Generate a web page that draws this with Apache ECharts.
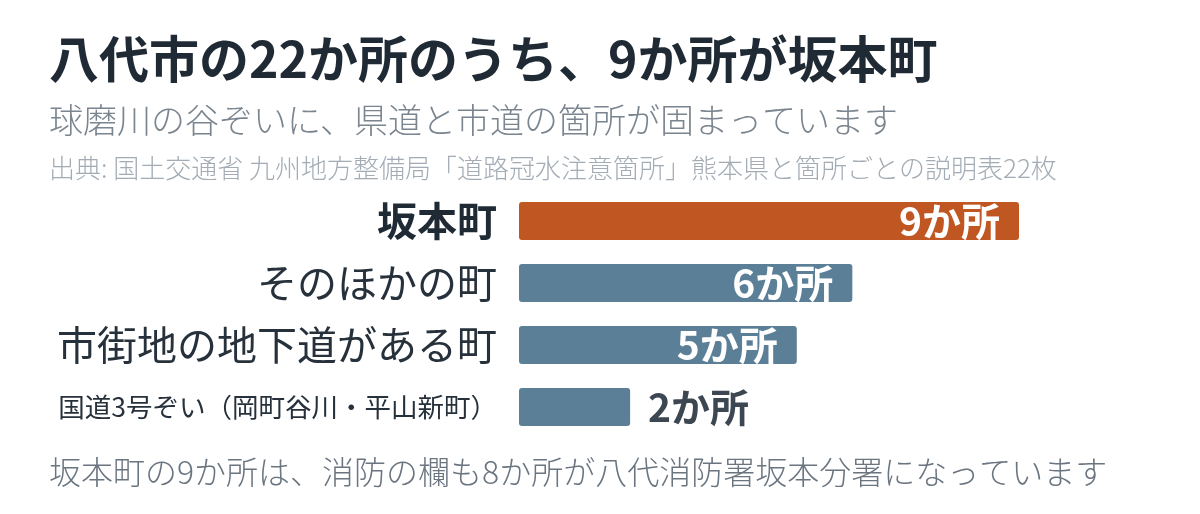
<!DOCTYPE html>
<html>
<head>
<meta charset="utf-8">
<script src="https://cdn.jsdelivr.net/npm/echarts@6/dist/echarts.min.js"></script>
<style>
  html, body { margin: 0; padding: 0; background: #fff; }
  #main { width: 1200px; height: 514px; }
</style>
</head>
<body>
<div id="main"></div>
<script>
  // データ
  var categories = ['坂本町', 'そのほかの町', '市街地の地下道がある町', '国道3号ぞい（岡町谷川・平山新町）'];
  var counts = [9, 6, 5, 2];
  var barColors = ['#c05723', '#5b7f96', '#5b7f96', '#5b7f96'];

  var FONT = '"Noto Sans CJK JP", "Noto Sans", sans-serif';

  var myChart = echarts.init(document.getElementById('main'));

  var seriesData = counts.map(function (v, i) {
    var item = {
      value: v,
      itemStyle: { color: barColors[i] }
    };
    // 短いバーはラベルを外側に
    if (v < 3) {
      item.label = { position: 'right', color: '#3d4752', distance: 18 };
    }
    return item;
  });

  var option = {
    animation: false,
    backgroundColor: '#ffffff',
    textStyle: { fontFamily: FONT },
    title: [
      {
        text: '八代市の22か所のうち、9か所が坂本町',
        left: 44, top: 29,
        textStyle: { fontFamily: FONT, fontSize: 50, fontWeight: 'bold', color: '#1f2a35' }
      },
      {
        text: '球磨川の谷ぞいに、県道と市道の箇所が固まっています',
        left: 44, top: 98,
        textStyle: { fontFamily: FONT, fontSize: 34, fontWeight: 300, color: '#7b858f' }
      },
      {
        text: '出典: 国土交通省 九州地方整備局「道路冠水注意箇所」熊本県と箇所ごとの説明表22枚',
        left: 44, top: 150,
        textStyle: { fontFamily: FONT, fontSize: 26, fontWeight: 300, color: '#a3acb5' }
      },
      {
        text: '坂本町の9か所は、消防の欄も8か所が八代消防署坂本分署になっています',
        left: 44, top: 451,
        textStyle: { fontFamily: FONT, fontSize: 32, fontWeight: 300, color: '#6b7580' }
      }
    ],
    grid: {
      left: 519,
      right: 181,
      top: 190,
      height: 248,
      containLabel: false
    },
    xAxis: {
      type: 'value',
      min: 0,
      max: 9,
      show: false
    },
    yAxis: {
      type: 'category',
      data: categories,
      inverse: true,
      axisLine: { show: false },
      axisTick: { show: false },
      axisLabel: {
        margin: 22,
        formatter: function (value, index) {
          if (index === 0) return '{a|' + value + '}';
          if (index === 3) return '{c|' + value + '}';
          return '{b|' + value + '}';
        },
        rich: {
          a: { fontFamily: FONT, fontSize: 40, fontWeight: 'bold', color: '#1f2a35' },
          b: { fontFamily: FONT, fontSize: 40, fontWeight: 'normal', color: '#27313b' },
          c: { fontFamily: FONT, fontSize: 26.5, fontWeight: 'normal', color: '#27313b' }
        }
      }
    },
    series: [
      {
        type: 'bar',
        barWidth: 38,
        data: seriesData,
        itemStyle: { borderRadius: 3 },
        label: {
          show: true,
          position: 'insideRight',
          distance: 19,
          formatter: '{c}か所',
          fontFamily: FONT,
          fontSize: 39,
          fontWeight: 'bold',
          color: '#ffffff'
        }
      }
    ]
  };

  myChart.setOption(option);
</script>
</body>
</html>
